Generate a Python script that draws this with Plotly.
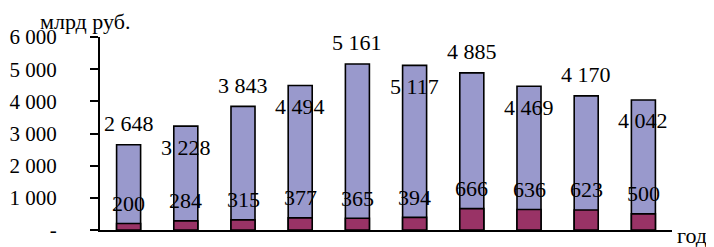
import plotly.graph_objects as go

categories = ["1", "2", "3", "4", "5", "6", "7", "8", "9", "10"]
total_values = [2648, 3228, 3843, 4494, 5161, 5117, 4885, 4469, 4170, 4042]
part_values = [200, 284, 315, 377, 365, 394, 666, 636, 623, 500]
y_tick_vals = [0, 1000, 2000, 3000, 4000, 5000, 6000]
y_tick_text = ["-", "1 000", "2 000", "3 000", "4 000", "5 000", "6 000"]


def fmt(v):
    return f"{v:,}".replace(",", " ")


FONT = "Liberation Serif"
FS = 22

fig = go.Figure()
fig.add_trace(go.Bar(
    x=list(range(len(categories))), y=total_values,
    marker=dict(color="#9999CC", line=dict(color="#000000", width=1.6)),
    hoverinfo="skip",
))
fig.add_trace(go.Bar(
    x=list(range(len(categories))), y=part_values,
    marker=dict(color="#993366", line=dict(color="#000000", width=1.6)),
    hoverinfo="skip",
))

annotations = []
for i, v in enumerate(total_values):
    annotations.append(dict(
        x=i, y=v, xref="x", yref="y", text=fmt(v), showarrow=False,
        xanchor="center", yanchor="middle", yshift=21 if i % 2 == 0 else -21,
        font=dict(family=FONT, size=FS, color="#000000"),
    ))
for i, v in enumerate(part_values):
    annotations.append(dict(
        x=i, y=v, xref="x", yref="y", text=fmt(v), showarrow=False,
        xanchor="center", yanchor="middle", yshift=20,
        font=dict(family=FONT, size=FS, color="#000000"),
    ))
annotations.append(dict(
    x=-0.026, y=1.08, xref="paper", yref="paper", text="млрд руб.",
    showarrow=False, xanchor="center", yanchor="middle",
    font=dict(family=FONT, size=FS, color="#000000"),
))
annotations.append(dict(
    x=1.065, y=-0.03, xref="paper", yref="paper", text="год",
    showarrow=False, xanchor="right", yanchor="middle",
    font=dict(family=FONT, size=FS, color="#000000"),
))

fig.update_layout(
    width=706, height=239,
    margin=dict(l=92, r=42, t=29, b=17, autoexpand=False),
    paper_bgcolor="#FFFFFF", plot_bgcolor="#FFFFFF",
    barmode="overlay", bargap=0.58,
    showlegend=False,
    font=dict(family=FONT, size=FS, color="#000000"),
    annotations=annotations,
    xaxis=dict(
        range=[-0.5, 9.5], showticklabels=False, automargin=False,
        ticks="", showgrid=False, zeroline=False,
        showline=True, linecolor="#000000", linewidth=2,
    ),
    yaxis=dict(
        range=[0, 6000], tickvals=y_tick_vals, ticktext=y_tick_text,
        automargin=False,
        ticks="outside", ticklen=8, tickwidth=2, tickcolor="#000000",
        ticklabelstandoff=29,
        showgrid=False, zeroline=False,
        showline=True, linecolor="#000000", linewidth=2,
        tickfont=dict(family=FONT, size=21, color="#000000"),
    ),
)

fig.write_html("out.html")
